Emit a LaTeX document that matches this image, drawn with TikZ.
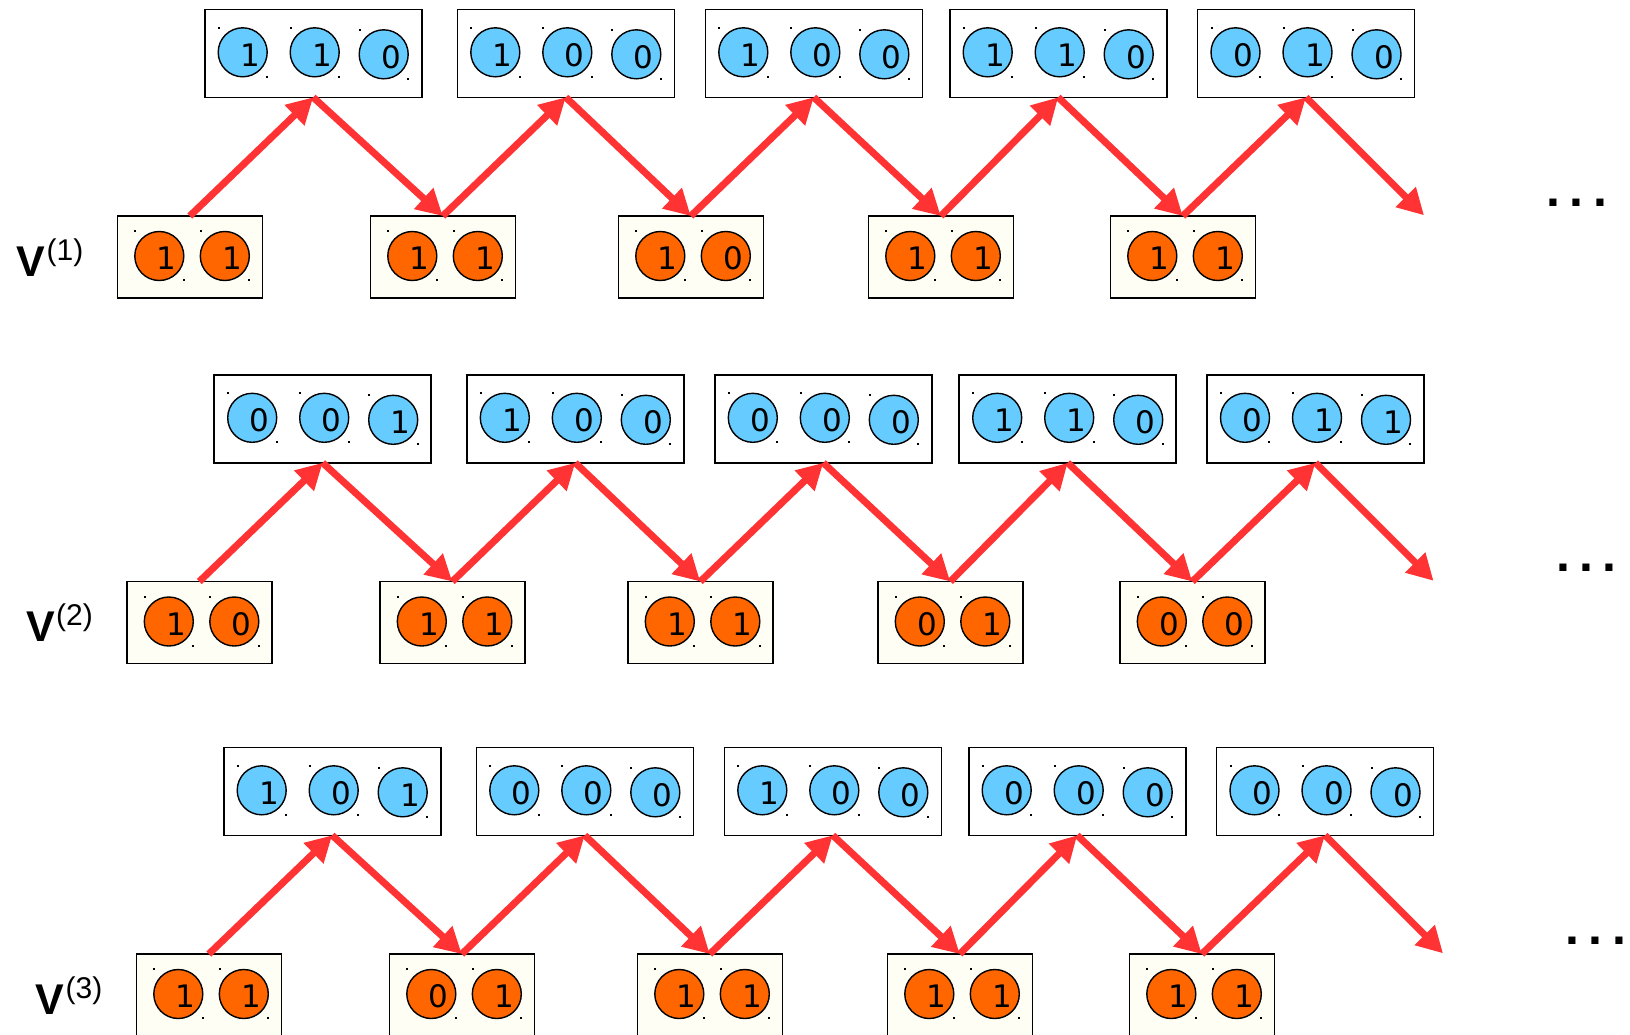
\documentclass[tikz,border=0pt]{standalone}
\usepackage{fontspec}
\setmainfont{DejaVu Sans}
\newfontfamily\lblfont{Liberation Sans}
\usetikzlibrary{arrows.meta,calc}
\definecolor{ballblue}{HTML}{66CCFF}
\definecolor{ballorange}{HTML}{FF6600}
\definecolor{arrowred}{HTML}{FF3333}
\definecolor{ivoryfill}{HTML}{FEFEF5}
\tikzset{
  boxbase/.style={rectangle, draw=black, line width=1.6pt, anchor=north west, inner sep=0pt, outer sep=0pt},
  topbox/.style={boxbase, fill=white, minimum width=217pt, minimum height=88pt},
  botbox/.style={boxbase, fill=ivoryfill, minimum width=145pt, minimum height=82pt},
  ball/.style={circle, draw=black, line width=1.4pt, minimum size=49pt, inner sep=0pt, outer sep=0pt},
  digit/.style={inner sep=0pt, font=\fontsize{31}{31}\selectfont},
  arr/.style={draw=arrowred, line width=7pt, -{Triangle[length=26pt,width=27pt]}},
  vlabel/.style={anchor=base west, inner sep=0pt},
  dotsstyle/.style={anchor=base west, inner sep=0pt, font=\lblfont\bfseries\fontsize{50}{50}\selectfont},
}
\newcommand\ballat[4]{%
  \node[ball, fill=#4] (#1) at (#2) {};
  \node[digit] (#1d) at ($(#1)+(7.5,2.5)$) {#3};
  \fill ($(#1)+(-25,-25.7)$) rectangle +(2,2);
  \fill ($(#1)+(23.3,23.3)$) rectangle +(2,2);
}
\newcommand\topbox[6]{%
  \node[topbox] (#1) at (#2+\dx,#3+\dy) {};
  \ballat{#1a}{$(#1.north west)+(38,43)$}{#4}{ballblue}
  \ballat{#1b}{$(#1.north west)+(110,43)$}{#5}{ballblue}
  \ballat{#1c}{$(#1.north west)+(179,45)$}{#6}{ballblue}
}
\newcommand\botbox[5]{%
  \node[botbox] (#1) at (#2+\dx,#3+\dy) {};
  \ballat{#1a}{$(#1.north west)+(42,40)$}{#4}{ballorange}
  \ballat{#1b}{$(#1.north west)+(107.5,40)$}{#5}{ballorange}
}
\newcommand\vlab[1]{{\lblfont\bfseries\fontsize{43}{43}\selectfont V}\kern1pt\raisebox{16pt}{\lblfont\fontsize{30}{30}\selectfont (#1)}}
\begin{document}
\begin{tikzpicture}[x=1pt,y=-1pt]
\useasboundingbox (0,0) rectangle (1630,1034);
% ---------- row 1
\def\dx{0}\def\dy{0}
\topbox{t11}{204.7}{9.3}{1}{1}{0}
\topbox{t12}{457.3}{9.3}{1}{0}{0}
\topbox{t13}{705.3}{9.3}{1}{0}{0}
\topbox{t14}{949.7}{9.3}{1}{1}{0}
\topbox{t15}{1197.5}{9.3}{0}{1}{0}
\botbox{b11}{117.3}{216}{1}{1}
\botbox{b12}{370.3}{216}{1}{1}
\botbox{b13}{618.3}{216}{1}{0}
\botbox{b14}{868.3}{216}{1}{1}
\botbox{b15}{1110.3}{216}{1}{1}
\coordinate (e1) at ($(t15.south)+(118,118)$);
\node[vlabel] (v1) at (16.7+\dx,276+\dy) {\vlab{1}};
\node[dotsstyle] (d1) at (1546.4+\dx,206+\dy) {.\kern9.4pt.\kern9.4pt.};
% ---------- row 2
\def\dx{9.5}\def\dy{365.5}
\topbox{t21}{204.7}{9.3}{0}{0}{1}
\topbox{t22}{457.3}{9.3}{1}{0}{0}
\topbox{t23}{705.3}{9.3}{0}{0}{0}
\topbox{t24}{949.7}{9.3}{1}{1}{0}
\topbox{t25}{1197.5}{9.3}{0}{1}{1}
\botbox{b21}{117.3}{216}{1}{0}
\botbox{b22}{370.3}{216}{1}{1}
\botbox{b23}{618.3}{216}{1}{1}
\botbox{b24}{868.3}{216}{0}{1}
\botbox{b25}{1110.3}{216}{0}{0}
\coordinate (e2) at ($(t25.south)+(118,118)$);
\node[vlabel] (v2) at (16.7+\dx,276+\dy) {\vlab{2}};
\node[dotsstyle] (d2) at (1546.4+\dx,206+\dy) {.\kern9.4pt.\kern9.4pt.};
% ---------- row 3
\def\dx{19}\def\dy{738}
\topbox{t31}{204.7}{9.3}{1}{0}{1}
\topbox{t32}{457.3}{9.3}{0}{0}{0}
\topbox{t33}{705.3}{9.3}{1}{0}{0}
\topbox{t34}{949.7}{9.3}{0}{0}{0}
\topbox{t35}{1197.5}{9.3}{0}{0}{0}
\botbox{b31}{117.3}{216}{1}{1}
\botbox{b32}{370.3}{216}{0}{1}
\botbox{b33}{618.3}{216}{1}{1}
\botbox{b34}{868.3}{216}{1}{1}
\botbox{b35}{1110.3}{216}{1}{1}
\coordinate (e3) at ($(t35.south)+(118,118)$);
\node[vlabel] (v3) at (16.7+\dx,276+\dy) {\vlab{3}};
\node[dotsstyle] (d3) at (1546.4+\dx,206+\dy) {.\kern9.4pt.\kern9.4pt.};
% ---------- arrows
\foreach \r in {1,2,3} {
  \foreach \i in {1,2,3,4} {
    \pgfmathtruncatemacro\j{\i+1}
    \draw[arr] (b\r\i.north) -- (t\r\i.south);
    \draw[arr] (t\r\i.south) -- (b\r\j.north);
  }
  \draw[arr] (b\r5.north) -- (t\r5.south);
  \draw[arr] (t\r5.south) -- (e\r);
}
\end{tikzpicture}
\end{document}
